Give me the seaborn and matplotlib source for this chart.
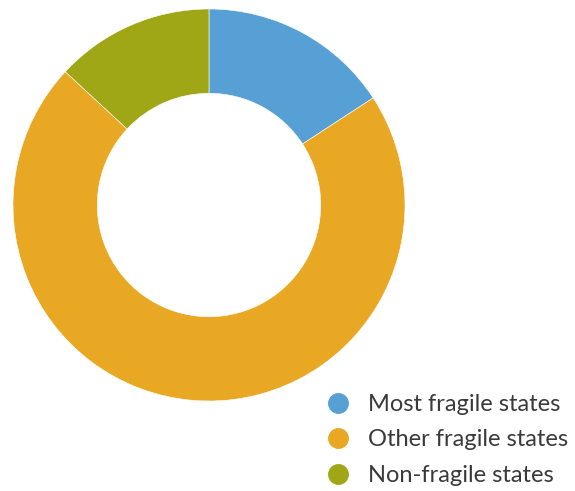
import matplotlib
matplotlib.use("Agg")
import matplotlib.pyplot as plt
from matplotlib.lines import Line2D
import seaborn as sns

sns.set_theme(style="white")
plt.rcParams["font.family"] = ["Lato", "DejaVu Sans"]

categories = ["Most fragile states", "Other fragile states", "Non-fragile states"]
shares = [15.8, 71.1, 13.1]
colors = ["#56A0D5", "#E8A823", "#A0A716"]

W, H = 575, 491
fig = plt.figure(figsize=(W / 100, H / 100), dpi=100)
ax = fig.add_axes([12 / W, (H - 401) / H, 394 / W, 392 / H])

ax.pie(shares, colors=colors, startangle=90, counterclock=False,
       radius=1.0, wedgeprops=dict(width=0.43, edgecolor="white", linewidth=0.4))
ax.set_xlim(-1, 1)
ax.set_ylim(-1, 1)
ax.set_aspect("equal")
ax.axis("off")

handles = [Line2D([0], [0], marker="o", linestyle="", markersize=14,
                  markerfacecolor=c, markeredgecolor=c) for c in colors]
fig.legend(handles, categories, loc="upper left",
           bbox_to_anchor=(313 / W, 1 - 382 / H), frameon=False,
           prop=dict(family=["Lato", "DejaVu Sans"], size=17, weight="normal"),
           labelcolor="#3a3a3a", handletextpad=0.75,
           labelspacing=0.62, handlelength=1.1, borderpad=0)

fig.savefig("out.png", dpi=100)
